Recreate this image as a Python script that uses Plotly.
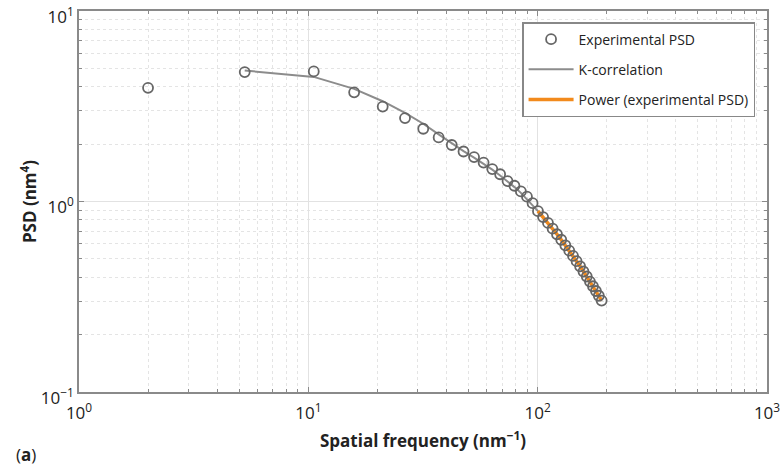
import plotly.graph_objects as go

# ---- data ----
exp_freq = [2.0, 5.28, 10.56, 15.84, 21.1, 26.4, 31.7, 37.0, 42.2, 47.5, 52.8,
            58.1, 63.4, 68.6, 73.9, 79.2, 84.5, 89.8, 95.0, 100.3, 105.6, 110.9,
            116.2, 121.4, 126.7, 132.0, 137.3, 142.6, 147.8, 153.1, 158.4, 163.7,
            169.0, 174.2, 179.5, 184.8, 190.1]
exp_psd = [3.95, 4.78, 4.82, 3.74, 3.15, 2.74, 2.41, 2.17, 1.98, 1.83, 1.71,
           1.60, 1.48, 1.39, 1.28, 1.21, 1.13, 1.06, 0.98, 0.89, 0.828, 0.772,
           0.720, 0.673, 0.630, 0.589, 0.552, 0.518, 0.486, 0.457, 0.429, 0.404,
           0.380, 0.359, 0.339, 0.320, 0.302]

kc_freq = [5.28, 10.56, 15.84, 21.1, 26.4, 31.7, 37.0, 42.2, 47.5, 52.8,
           58.1, 63.4, 68.6, 73.9, 79.2, 84.5, 89.8, 95.0, 100.3, 105.6, 110.9,
           116.2, 121.4, 126.7, 132.0, 137.3, 142.6, 147.8, 153.1, 158.4, 163.7,
           169.0, 174.2, 179.5, 184.8, 190.1]
kc_psd = [4.87, 4.51, 3.90, 3.36, 2.92, 2.56, 2.25, 2.02, 1.84, 1.70,
          1.58, 1.47, 1.37, 1.28, 1.19, 1.11, 1.03, 0.96, 0.89, 0.828, 0.772,
          0.720, 0.673, 0.630, 0.589, 0.552, 0.518, 0.486, 0.457, 0.429, 0.404,
          0.380, 0.359, 0.339, 0.320, 0.302]

pow_freq = [100.3, 105.6, 110.9, 116.2, 121.4, 126.7, 132.0, 137.3, 142.6,
            147.8, 153.1, 158.4, 163.7, 169.0, 174.2, 179.5, 184.8, 190.1]
pow_psd = [0.89, 0.828, 0.772, 0.720, 0.673, 0.630, 0.589, 0.552, 0.518,
           0.486, 0.457, 0.429, 0.404, 0.380, 0.359, 0.339, 0.320, 0.302]

x_tickvals = [1, 10, 100, 1000]
x_ticktext = ["10<sup>0</sup>", "10<sup>1</sup>", "10<sup>2</sup>", "10<sup>3</sup>"]
x_minor = [2, 3, 4, 5, 6, 7, 8, 9, 20, 30, 40, 50, 60, 70, 80, 90,
           200, 300, 400, 500, 600, 700, 800, 900]
y_tickvals = [0.1, 1, 10]
y_ticktext = ["10<sup>\u22121</sup>", "10<sup>0</sup>", "10<sup>1</sup>"]
y_minor = [0.2, 0.3, 0.4, 0.5, 0.6, 0.7, 0.8, 0.9, 2, 3, 4, 5, 6, 7, 8, 9]

FONT = "Open Sans, Lato, sans-serif"
AXC = "#8a8a8a"

fig = go.Figure()
fig.add_trace(go.Scatter(
    x=kc_freq, y=kc_psd, mode="lines", name="K-correlation",
    line=dict(color="#8c8c8c", width=2), legendrank=2, legendgroup="b"))
fig.add_trace(go.Scatter(
    x=pow_freq, y=pow_psd, mode="lines", name="Power (experimental PSD)",
    line=dict(color="#f28a1c", width=3.5), legendrank=3, legendgroup="c"))
fig.add_trace(go.Scatter(
    x=exp_freq, y=exp_psd, mode="markers", name="Experimental PSD",
    marker=dict(symbol="circle-open", size=10, color="#666666",
                line=dict(width=1.8, color="#666666")),
    legendrank=1, legendgroup="a"))


def axis_common(minor_vals):
    return dict(
        type="log", showline=True, linecolor=AXC, linewidth=1.5,
        mirror="allticks", ticks="inside", ticklen=5, tickcolor=AXC,
        showgrid=True, gridcolor="#e2e2e2", gridwidth=1, zeroline=False,
        automargin=False, ticklabeloverflow="allow",
        tickfont=dict(family=FONT, size=17, color="#222"),
        minor=dict(tickmode="array", tickvals=minor_vals, ticks="inside",
                   ticklen=3, tickcolor=AXC, showgrid=True,
                   gridcolor="#e4e4e4", griddash="dot", gridwidth=1),
    )


fig.update_xaxes(
    **axis_common(x_minor), range=[0, 3], tickvals=x_tickvals,
    ticktext=x_ticktext, ticklabelstandoff=5,
    title=dict(text="<b>Spatial frequency (nm<sup>\u22121</sup>)</b>",
               font=dict(family=FONT, size=17, color="#222"), standoff=12))
fig.update_yaxes(
    **axis_common(y_minor), range=[-1, 1], tickvals=y_tickvals,
    ticktext=y_ticktext, ticklabelshift=6,
    title=dict(text="<b>PSD (nm<sup>4</sup>)</b>",
               font=dict(family=FONT, size=17, color="#222"), standoff=0))

fig.update_layout(
    width=782, height=465,
    margin=dict(l=79, r=15, t=11, b=73, autoexpand=False),
    paper_bgcolor="white", plot_bgcolor="white",
    font=dict(family=FONT, color="#222"),
    showlegend=True,
    legend=dict(x=0.644, y=0.971, xanchor="left", yanchor="top",
                bgcolor="white", bordercolor="#888", borderwidth=1.5,
                font=dict(family=FONT, size=14, color="#222"),
                traceorder="grouped", tracegroupgap=9, itemwidth=45),
    annotations=[dict(text="(<b>a</b>)", xref="paper", yref="paper",
                      x=-0.094, y=-0.165, xanchor="left", yanchor="middle",
                      showarrow=False,
                      font=dict(family=FONT, size=17, color="#222"))],
)

fig.write_html("out.html", config={"displayModeBar": False},
               post_script="document.body.style.margin='0';"
                           "document.body.style.overflow='hidden';")
